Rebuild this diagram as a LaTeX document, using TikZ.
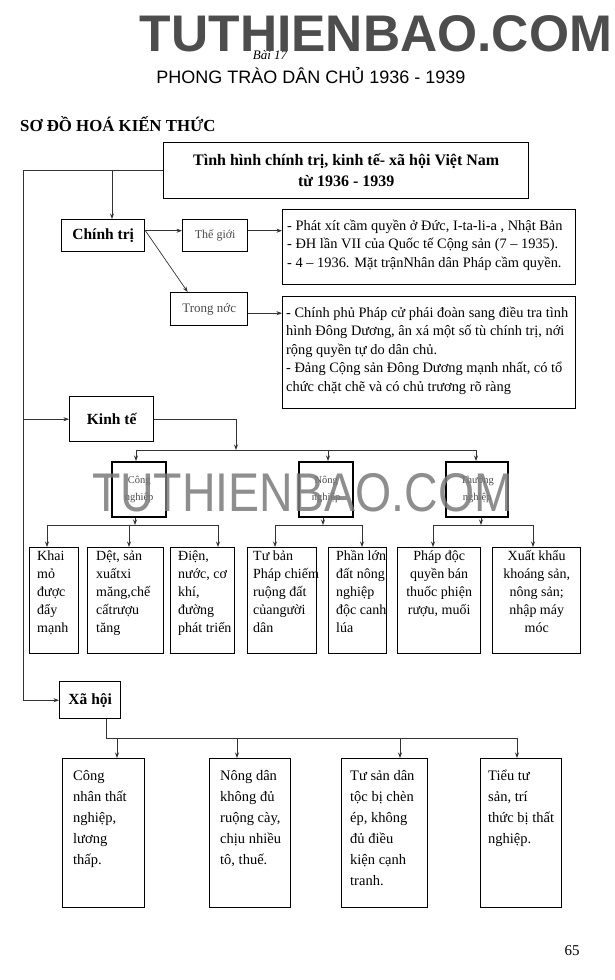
\documentclass[tikz,border=0pt]{standalone}
\usepackage{fontspec}
\setmainfont{Liberation Serif}
\newfontfamily\arialf{Liberation Sans}
\usetikzlibrary{arrows.meta}
\definecolor{wmdark}{HTML}{4D4D4D}
\definecolor{wmlight}{HTML}{7A7A7A}
\definecolor{connc}{HTML}{333333}
\definecolor{softc}{HTML}{4A4A4A}
\newcommand\tstrut{\rule{0pt}{13pt}}
\tikzset{
  box/.style={draw=black, line width=1.4pt, inner sep=0pt, anchor=north west},
  thickbox/.style={draw=black, line width=2.4pt, inner sep=0pt, anchor=north west, align=center, text=softc, font=\fontsize{10.5}{17}\selectfont},
  conn/.style={draw=connc, line width=0.7pt},
  arr/.style={conn, -{Stealth[length=5.5pt,width=4pt]}},
  txt/.style={inner sep=0pt, anchor=north west, align=left},
  rowtxt/.style={txt, font=\fontsize{14}{18}\selectfont},
  soctxt/.style={txt, font=\fontsize{14.5}{21}\selectfont},
  righttxt/.style={txt, font=\fontsize{14.4}{18.5}\selectfont},
  headbox/.style={box, font=\bfseries\fontsize{15.5}{18}\selectfont},
}
\begin{document}
\begin{tikzpicture}[x=1pt,y=-1pt]
\useasboundingbox (0,0) rectangle (615,980);

% headings
\node[inner sep=0pt, font=\itshape\fontsize{13}{15}\selectfont] (bai) at (270,55) {Bài 17};
\node[inner sep=0pt, font=\arialf\fontsize{18}{20}\selectfont] (title) at (311,76) {PHONG TRÀO DÂN CHỦ 1936 - 1939};
\node[inner sep=0pt, anchor=west, font=\bfseries\fontsize{16.8}{18}\selectfont] (sodo) at (20,124) {SƠ ĐỒ HOÁ KIẾN THỨC};
\node[inner sep=0pt, text=wmdark, font=\arialf\bfseries\fontsize{51.5}{55}\selectfont] (wm1) at (376,33.5) {TUTHIENBAO.COM};

% main box
\node[box, minimum width=365pt, minimum height=56pt, align=center, font=\bfseries\fontsize{16}{21}\selectfont] (main) at (163,142) {Tình hình chính trị, kinh tế- xã hội Việt Nam\\từ 1936 - 1939};

% chinh tri
\node[headbox, minimum width=83pt, minimum height=32pt] (ct) at (61,219) {Chính trị};
\node[box, minimum width=65pt, minimum height=32pt, text=softc, font=\fontsize{12}{14}\selectfont] (tg) at (182,219) {Thế giới};
\node[box, minimum width=77pt, minimum height=33pt, text=softc, font=\fontsize{13}{15}\selectfont] (tn) at (170,292) {Trong nớc};
\node[box, minimum width=293pt, minimum height=75pt] (r1) at (282,209) {};
\node[righttxt] (r1t) at ([xshift=5pt,yshift=-8pt]r1.north west) {\tstrut - Phát xít cầm quyền ở  Đức, I-ta-li-a  , Nhật Bản\\- ĐH lần VII của Quốc tế Cộng sản (7 – 1935).\\- 4 – 1936. Mặt trậnNhân dân Pháp cầm quyền.};
\node[box, minimum width=293pt, minimum height=112pt] (r2) at (282,296) {};
\node[righttxt] (r2t) at ([xshift=4pt,yshift=-8pt]r2.north west) {\tstrut - Chính phủ Pháp cử phái đoàn sang điều tra tình\\hình Đông Dương, ân xá một số tù chính trị, nới\\rộng quyền tự do dân chủ.\\- Đảng Cộng sản Đông Dương mạnh nhất, có tổ\\chức chặt chẽ và có chủ trương rõ ràng};

% kinh te
\node[headbox, minimum width=84pt, minimum height=45pt] (kt) at (69,396) {Kinh tế};
\node[thickbox, minimum width=54pt, minimum height=55pt] (cn) at (111,461) {Công\\nghiệp};
\node[thickbox, minimum width=54pt, minimum height=55pt] (nn) at (298,461) {Nông\\nghiệp};
\node[thickbox, minimum width=62pt, minimum height=55pt] (thn) at (445,461) {Thương\\nghiệp};

\node[box, minimum width=49pt, minimum height=106pt] (b1) at (29,547) {};
\node[box, minimum width=76pt, minimum height=106pt] (b2) at (87,547) {};
\node[box, minimum width=64pt, minimum height=106pt] (b3) at (170,547) {};
\node[box, minimum width=69pt, minimum height=106pt] (b4) at (247,547) {};
\node[box, minimum width=58pt, minimum height=106pt] (b5) at (328,547) {};
\node[box, minimum width=83pt, minimum height=106pt] (b6) at (397,547) {};
\node[box, minimum width=88pt, minimum height=106pt] (b7) at (492,547) {};
\node[rowtxt] (b1t) at ([xshift=8pt]b1.north west) {\tstrut Khai\\mỏ\\được\\đẩy\\mạnh};
\node[rowtxt] (b2t) at ([xshift=9pt]b2.north west) {\tstrut Dệt, sản\\xuấtxi\\măng,chế\\cấtrượu\\tăng};
\node[rowtxt] (b3t) at ([xshift=8pt]b3.north west) {\tstrut Điện,\\nước, cơ\\khí,\\đường\\phát triển};
\node[rowtxt] (b4t) at ([xshift=6pt]b4.north west) {\tstrut Tư bản\\Pháp chiếm\\ruộng đất\\củangười\\dân};
\node[rowtxt] (b5t) at ([xshift=8pt]b5.north west) {\tstrut Phần lớn\\đất nông\\nghiệp\\độc canh\\lúa};
\node[rowtxt, anchor=north, align=center] (b6t) at (b6.north) {\tstrut Pháp độc\\quyền bán\\thuốc phiện\\rượu, muối};
\node[rowtxt, anchor=north, align=center] (b7t) at (b7.north) {\tstrut Xuất khẩu\\khoáng sản,\\nông sản;\\nhập máy\\móc};

% xa hoi
\node[headbox, minimum width=61pt, minimum height=37pt] (xh) at (59,681) {Xã hội};
\node[box, minimum width=82pt, minimum height=149pt] (s1) at (62,758) {};
\node[box, minimum width=81pt, minimum height=149pt] (s2) at (209,758) {};
\node[box, minimum width=86pt, minimum height=149pt] (s3) at (341,758) {};
\node[box, minimum width=81pt, minimum height=149pt] (s4) at (480,758) {};
\node[soctxt] (s1t) at ([xshift=11pt,yshift=-9pt]s1.north west) {\tstrut Công\\nhân thất\\nghiệp,\\lương\\thấp.};
\node[soctxt] (s2t) at ([xshift=11pt,yshift=-9pt]s2.north west) {\tstrut Nông dân\\không đủ\\ruộng cày,\\chịu nhiều\\tô, thuế.};
\node[soctxt] (s3t) at ([xshift=9pt,yshift=-9pt]s3.north west) {\tstrut Tư sản dân\\tộc bị chèn\\ép, không\\đủ điều\\kiện cạnh\\tranh.};
\node[soctxt] (s4t) at ([xshift=8pt,yshift=-9pt]s4.north west) {\tstrut Tiểu tư\\sản, trí\\thức bị thất\\nghiệp.};

\node[inner sep=0pt, font=\fontsize{15}{17}\selectfont] (page) at (572,951) {65};

% connectors
\coordinate (sp) at (23,699);
\draw[arr] (main.west) -- (main.west -| sp) -- (xh.west -| sp) -- (xh.west);
\draw[arr] (kt.west -| sp) -- (kt.west);
\coordinate (cdrop) at (112,170);
\draw[arr] (cdrop) -- (cdrop |- ct.north);
\draw[arr] ([yshift=5pt]ct.east) -- ([yshift=5pt]ct.east -| tg.west);
\draw[arr] ([yshift=5pt]tg.east) -- ([yshift=5pt]tg.east -| r1.west);
\draw[arr] ([yshift=5pt]ct.east) -- ([xshift=-21.5pt]tn.north);
\draw[arr] ([yshift=-4pt]tn.east) -- ([yshift=-4pt]tn.east -| r2.west);

\coordinate (kdrop) at (236,450);
\draw[arr] (kt.east) -- (kt.east -| kdrop) -- (kdrop);
\coordinate (kl) at (136,450);
\coordinate (km) at (328,450);
\coordinate (kr) at (476,450);
\draw[conn] (kl) -- (kr);
\draw[arr] (kl) -- (kl |- cn.north);
\draw[arr] (km) -- (km |- nn.north);
\draw[arr] (kr) -- (kr |- thn.north);

\coordinate (g1) at (135,525);
\coordinate (g1a) at (47,525);
\coordinate (g1b) at (129,525);
\coordinate (g1c) at (218,525);
\draw[arr] (g1 |- cn.south) -- (g1);
\draw[conn] (g1a) -- (g1c);
\draw[arr] (g1a) -- (g1a |- b1.north);
\draw[arr] (g1b) -- (g1b |- b2.north);
\draw[arr] (g1c) -- (g1c |- b3.north);

\coordinate (g2) at (323,525);
\coordinate (g2a) at (275,525);
\coordinate (g2b) at (362,525);
\draw[arr] (g2 |- nn.south) -- (g2);
\draw[conn] (g2a) -- (g2b);
\draw[arr] (g2a) -- (g2a |- b4.north);
\draw[arr] (g2b) -- (g2b |- b5.north);

\coordinate (g3) at (481,525);
\coordinate (g3a) at (433,525);
\coordinate (g3b) at (533,525);
\draw[arr] (g3 |- thn.south) -- (g3);
\draw[conn] (g3a) -- (g3b);
\draw[arr] (g3a) -- (g3a |- b6.north);
\draw[arr] (g3b) -- (g3b |- b7.north);

\coordinate (xd) at (106,738);
\coordinate (x1) at (117,738);
\coordinate (x2) at (237,738);
\coordinate (x3) at (400,738);
\coordinate (x4) at (517,738);
\draw[conn] (xd |- xh.south) -- (xd) -- (x4);
\draw[arr] (x1) -- (x1 |- s1.north);
\draw[arr] (x2) -- (x2 |- s2.north);
\draw[arr] (x3) -- (x3 |- s3.north);
\draw[arr] (x4) -- (x4 |- s4.north);

% overlay watermark
\node[inner sep=0pt, text=wmlight, opacity=0.85, font=\arialf\fontsize{54.5}{56}\selectfont] (wm2) at (302.5,492.5) {\scalebox{0.853}[1]{TUTHIENBAO.COM}};
\end{tikzpicture}
\end{document}
